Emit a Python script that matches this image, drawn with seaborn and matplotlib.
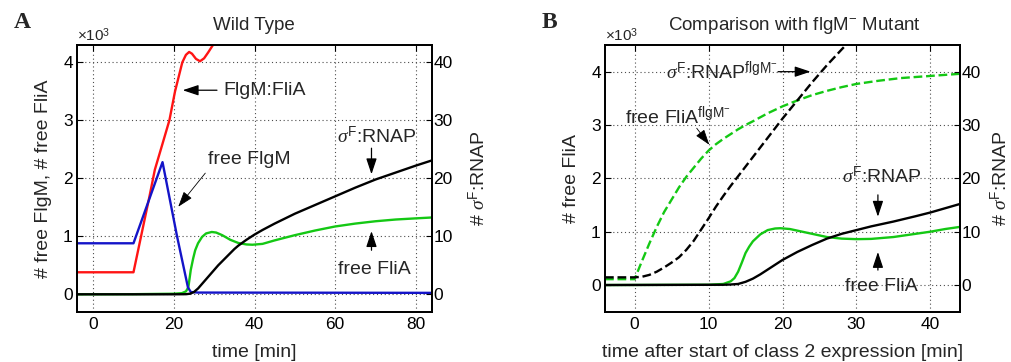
import numpy as np
import pandas as pd
import matplotlib
matplotlib.use("Agg")
import matplotlib.pyplot as plt
import seaborn as sns

sns.set_theme(style="white")
plt.rcParams['font.family'] = ['Liberation Sans', 'DejaVu Sans']
plt.rcParams['mathtext.fontset'] = 'custom'
plt.rcParams['mathtext.rm'] = 'Liberation Sans'
plt.rcParams['mathtext.sf'] = 'Liberation Sans'
plt.rcParams['mathtext.it'] = 'Liberation Serif:italic'

# ---------------- Panel A data (left axis in thousands, right axis counts) ----------
a_red_t = [-4, 10, 12, 14, 15.3, 17, 18.9, 20.3, 22.1, 23, 23.8, 24.5, 25.5, 26.5, 27.5, 28.5, 29.7, 31]
a_red_v = [0.38, 0.38, 1.04, 1.7, 2.15, 2.55, 3.0, 3.5, 4.0, 4.13, 4.18, 4.15, 4.06, 4.02, 4.07, 4.17, 4.3, 4.45]

a_blue_t = [-4, 10, 17.2, 20.8, 23.5, 24.2, 26, 84]
a_blue_v = [0.88, 0.88, 2.28, 1.0, 0.12, 0.04, 0.03, 0.025]

a_green_t = [-4, 10, 20, 22, 23, 23.6, 24.2, 24.8, 25.3, 26, 27, 28, 29.4, 30.5, 32, 34, 36, 38, 39.5,
             42, 45, 50, 55, 60, 65, 70, 75, 80, 84]
a_green_v = [0.0, 0.002, 0.01, 0.02, 0.05, 0.12, 0.42, 0.62, 0.76, 0.88, 0.99, 1.05, 1.075, 1.065, 1.02,
             0.94, 0.885, 0.86, 0.855, 0.87, 0.93, 1.02, 1.1, 1.17, 1.22, 1.26, 1.29, 1.31, 1.325]

a_black_t = [-4, 20, 23, 24, 25, 26, 27, 28, 29, 30, 31, 32, 33, 34, 35, 36, 38, 40, 42, 45, 50, 55,
             60, 65, 70, 75, 80, 84]
a_black_v = [0, 0, 0.02, 0.1, 0.4, 1.0, 1.8, 2.6, 3.4, 4.2, 5.0, 5.7, 6.4, 7.1, 7.8, 8.4, 9.4, 10.3,
             11.1, 12.2, 13.9, 15.4, 16.9, 18.4, 19.8, 21.0, 22.2, 23.1]

# ---------------- Panel B data ----------------
b_green_t = [-4, 10, 12, 13, 13.5, 14, 14.5, 15, 15.5, 16, 17, 18, 19, 19.7, 21, 22, 24, 26, 28, 30,
             32, 35, 38, 40, 42, 44]
b_green_v = [0.0, 0.005, 0.02, 0.07, 0.13, 0.25, 0.42, 0.6, 0.72, 0.82, 0.95, 1.03, 1.06, 1.065, 1.05,
             1.02, 0.96, 0.9, 0.87, 0.86, 0.865, 0.9, 0.96, 1.0, 1.05, 1.09]

b_black_t = [-4, 12, 13, 14, 15, 16, 17, 18, 19, 20, 22, 24, 26, 28, 30, 32, 35, 38, 40, 42, 44]
b_black_v = [0, 0.05, 0.1, 0.2, 0.6, 1.2, 2.0, 2.9, 3.8, 4.7, 6.2, 7.5, 8.7, 9.6, 10.3, 11.0, 11.9,
             12.9, 13.6, 14.4, 15.2]

b_green_mut_t = [-4, 0, 1, 2, 3, 4, 5, 6, 7, 8, 9, 10, 11, 12, 13, 14, 15, 16, 18, 20, 22, 24, 26, 28,
                 30, 33, 36, 40, 44]
b_green_mut_v = [0.11, 0.11, 0.45, 0.78, 1.09, 1.37, 1.6, 1.83, 2.03, 2.2, 2.37, 2.52, 2.64, 2.74, 2.83,
                 2.92, 3.0, 3.07, 3.22, 3.35, 3.46, 3.56, 3.64, 3.71, 3.77, 3.83, 3.88, 3.92, 3.96]

b_black_mut_t = [-4, 0, 1, 2, 3, 4, 5, 6, 7, 8, 9, 10, 11, 12, 13, 14, 16, 18, 20, 22, 24, 26, 28.7, 32]
b_black_mut_v = [1.44, 1.44, 1.55, 1.9, 2.5, 3.3, 4.2, 5.2, 6.6, 8.3, 10.4, 12.5, 14.7, 16.7, 18.6,
                 20.4, 24.0, 27.6, 31.2, 34.6, 38.0, 41.2, 45.2, 50]

xticks_A = [0, 20, 40, 60, 80]
xticks_B = [0, 10, 20, 30, 40]
yticks_left = [0, 1, 2, 3, 4]
yticks_right = [0, 10, 20, 30, 40]

RED = '#ff1414'
BLUE = '#1414c8'
GREEN = '#14c814'
LW = 1.7
SIG = r'$\sigma^{\rm F}$'

W, H = 1011, 362
fig = plt.figure(figsize=(W / 100, H / 100), dpi=100)
bottom = 1 - 311.7 / H
height = 266.7 / H
axA = fig.add_axes([77 / W, bottom, 355 / W, height])
axB = fig.add_axes([605 / W, bottom, 355 / W, height])
axA2 = axA.twinx()
axB2 = axB.twinx()


def style(ax, ax2, xlim, ylim, ylim2, xticks):
    ax.set_xlim(*xlim)
    ax.set_ylim(*ylim)
    ax2.set_ylim(*ylim2)
    ax.set_xticks(xticks)
    ax.set_yticks(yticks_left)
    ax2.set_yticks(yticks_right)
    ax.set_xticklabels([str(v) for v in xticks])
    ax.set_yticklabels([str(v) for v in yticks_left])
    ax2.set_yticklabels([str(v) for v in yticks_right])
    ax.grid(True, linestyle=(0, (1, 2.5)), color='0.3', linewidth=0.8)
    ax.set_axisbelow(True)
    for a in (ax, ax2):
        for s in a.spines.values():
            s.set_color('black')
            s.set_linewidth(1.3)
    ax.tick_params(axis='both', direction='in', length=4, width=0.8, labelsize=12.5,
                   top=True, right=False, colors='black', pad=4)
    ax.tick_params(axis='y', pad=3)
    ax2.tick_params(axis='y', direction='in', length=4, width=0.8, labelsize=12.5,
                    colors='black', pad=1)


def line(ax, t, v, color, ls='-'):
    sns.lineplot(x=t, y=v, ax=ax, color=color, linewidth=LW, linestyle=ls,
                 estimator=None, sort=False, legend=False)


# ---- Panel A ----
line(axA, a_red_t, a_red_v, RED)
line(axA, a_green_t, a_green_v, GREEN)
line(axA, a_blue_t, a_blue_v, BLUE)
line(axA2, a_black_t, a_black_v, 'black')
style(axA, axA2, (-4, 84), (-0.3, 4.3), (-3, 43), xticks_A)

# ---- Panel B ----
line(axB, b_green_mut_t, b_green_mut_v, GREEN, '--')
line(axB, b_green_t, b_green_v, GREEN)
line(axB2, b_black_mut_t, b_black_mut_v, 'black', '--')
line(axB2, b_black_t, b_black_v, 'black')
style(axB, axB2, (-4, 44), (-0.5, 4.5), (-5, 45), xticks_B)

FS = 14
axA.set_xlabel('time [min]', fontsize=FS)
axA.set_ylabel('# free FlgM, # free FliA', fontsize=FS)
axA2.set_ylabel('# ' + SIG + ':RNAP', fontsize=FS)
axB.set_xlabel('time after start of class 2 expression [min]', fontsize=FS)
axB.set_ylabel('# free FliA', fontsize=FS)
axB2.set_ylabel('# ' + SIG + ':RNAP', fontsize=FS)
for ax in (axA, axB):
    ax.xaxis.set_label_coords(0.5, -0.12)
axA.yaxis.set_label_coords(-0.07, 0.5)
axB.yaxis.set_label_coords(-0.07, 0.5)
axA2.yaxis.set_label_coords(1.10, 0.5)
axB2.yaxis.set_label_coords(1.084, 0.5)

# titles, panel letters, exponent
fig.text(254 / W, 1 - 25 / H, 'Wild Type', ha='center', va='center', fontsize=13.5)
fig.text(794 / W, 1 - 25 / H, r'Comparison with flgM$^{-}$ Mutant', ha='center', va='center', fontsize=13.5)
fig.text(22 / W, 1 - 23 / H, 'A', ha='center', va='center', fontsize=17, fontweight='bold',
         family='Liberation Serif')
fig.text(549 / W, 1 - 23 / H, 'B', ha='center', va='center', fontsize=17, fontweight='bold',
         family='Liberation Serif')
fig.text(77 / W, 1 - 41 / H, r'$\times10^3$', ha='left', va='baseline', fontsize=11)
fig.text(605 / W, 1 - 41 / H, r'$\times10^3$', ha='left', va='baseline', fontsize=11)

AP = dict(arrowstyle='-|>,head_length=0.6,head_width=0.2', color='black', lw=0.9,
          mutation_scale=16, shrinkA=0, shrinkB=0)
APthin = dict(AP, lw=0.6)

# Panel A annotations
axA.annotate('', xy=(22.2, 3.52), xytext=(30.7, 3.52), arrowprops=AP)
axA.text(32.2, 3.52, 'FlgM:FliA', fontsize=FS, ha='left', va='center')
axA.annotate('', xy=(21.1, 1.51), xytext=(27.8, 2.09), arrowprops=APthin)
axA.text(38.8, 2.32, 'free FlgM', fontsize=FS, ha='center', va='center')
axA.annotate('', xy=(69, 2.07), xytext=(69, 2.52), arrowprops=AP)
axA.text(70.3, 2.73, SIG + ':RNAP', fontsize=FS, ha='center', va='center')
axA.annotate('', xy=(69, 1.09), xytext=(69, 0.76), arrowprops=AP)
axA.text(69.8, 0.43, 'free FliA', fontsize=FS, ha='center', va='center')

# Panel B annotations
axB.annotate('', xy=(23.8, 4.0), xytext=(19.4, 4.0), arrowprops=AP)
axB.text(19.3, 4.0, SIG + r':RNAP$^{\rm flgM^{-}}$', fontsize=FS, ha='right', va='center')
axB.annotate('', xy=(10.1, 2.63), xytext=(8.4, 2.94), arrowprops=APthin)
axB.text(5.8, 3.16, r'free FliA$^{\rm flgM^{-}}$', fontsize=FS, ha='center', va='center')
axB.annotate('', xy=(32.9, 1.28), xytext=(32.9, 1.69), arrowprops=AP)
axB.text(33.4, 2.03, SIG + ':RNAP', fontsize=FS, ha='center', va='center')
axB.annotate('', xy=(32.9, 0.62), xytext=(32.9, 0.28), arrowprops=AP)
axB.text(33.4, -0.03, 'free FliA', fontsize=FS, ha='center', va='center')

fig.savefig('out.png', dpi=100)
